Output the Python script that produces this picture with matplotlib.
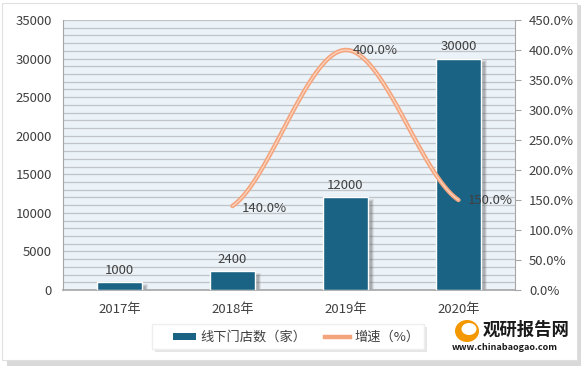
import numpy as np
import matplotlib
matplotlib.use("Agg")
import matplotlib.pyplot as plt
from matplotlib.patches import Rectangle, Ellipse

plt.rcParams['font.family'] = ['Noto Sans CJK SC', 'DejaVu Sans']

categories = ['2017年', '2018年', '2019年', '2020年']
stores = [1000, 2400, 12000, 30000]
growth = [None, 140.0, 400.0, 150.0]
left_ticks = [0, 5000, 10000, 15000, 20000, 25000, 30000, 35000]
right_ticks = [0, 50, 100, 150, 200, 250, 300, 350, 400, 450]

bar_color = '#1B6385'
line_color = '#F4A57E'
text_color = '#404040'

fig = plt.figure(figsize=(5.83, 3.66), dpi=100)
# outer frame with shadow
fig.patches.append(Rectangle((0.012, 0.0), 0.985, 0.985, transform=fig.transFigure,
                             facecolor='#D9D9D9', edgecolor='none', zorder=-3))
fig.patches.append(Rectangle((0.004, 0.016), 0.985, 0.975, transform=fig.transFigure,
                             facecolor='white', edgecolor='#E0E0E0', lw=0.8, zorder=-2))

ax = fig.add_axes([63/583, 1-290/366, (515-63)/583, (290-20)/366])
ax.set_facecolor('#EBF2F8')
x = np.arange(len(categories))
ax.set_xlim(-0.5, len(categories)-0.5)
ax.set_ylim(0, 35000)
for v in range(1000, 35001, 1000):
    ax.axhline(v, color='#C0C4C8', lw=0.9, zorder=1)

bw = 0.39
# soft shadows
for k, a in enumerate([0.12, 0.18, 0.25]):
    off = 0.06 - k*0.012
    for xi, v in zip(x, stores):
        ax.add_patch(Rectangle((xi - bw/2 + off, 0), bw, v - 200 - k*120, facecolor='#606060',
                               alpha=a, edgecolor='none', zorder=2))
ax.bar(x, stores, width=bw, color=bar_color, edgecolor='white', linewidth=1.0, zorder=3)
for xi, v in zip(x, stores):
    ax.text(xi, v + 700, str(v), ha='center', va='bottom', fontsize=9.5, color=text_color, zorder=6)

ax.set_xticks(x)
ax.set_xticklabels(categories, fontsize=9.5, color=text_color)
ax.set_yticks(left_ticks)
ax.set_yticklabels([str(t) for t in left_ticks], fontsize=9.5, color=text_color)
ax.tick_params(axis='both', length=0, pad=8)
ax.tick_params(axis='x', pad=9)
for s in ['top', 'right']:
    ax.spines[s].set_visible(False)
ax.spines['left'].set_color('#A6A6A6')
ax.spines['bottom'].set_color('#A6A6A6')
ax.spines['bottom'].set_linewidth(1.2)

ax2 = ax.twinx()
ax2.set_ylim(0, 450)
ax2.set_yticks(right_ticks)
ax2.set_yticklabels([f'{t:.1f}%' for t in right_ticks], fontsize=9.5, color=text_color)
ax2.tick_params(axis='y', length=4, color='#A6A6A6', pad=6)
for s in ['top', 'left', 'bottom']:
    ax2.spines[s].set_visible(False)
ax2.spines['right'].set_color('#A6A6A6')

# smooth curve (Catmull-Rom through the data points)
gx = np.array([i for i, g in enumerate(growth) if g is not None], dtype=float)
gy = np.array([g for g in growth if g is not None], dtype=float)
px = np.concatenate([[2*gx[0]-gx[1]], gx, [2*gx[-1]-gx[-2]]])
py = np.concatenate([[gy[0]], gy, [gy[-1]]])
cx, cy = [], []
for i in range(1, len(px)-2):
    t = np.linspace(0, 1, 60)
    p0, p1, p2, p3 = [np.array([px[j], py[j]]) for j in range(i-1, i+3)]
    pts = 0.5*((2*p1)[:, None] + (-p0+p2)[:, None]*t + (2*p0-5*p1+4*p2-p3)[:, None]*t**2
               + (-p0+3*p1-3*p2+p3)[:, None]*t**3)
    cx.extend(pts[0]); cy.extend(pts[1])
ax2.plot(cx, cy, color=line_color, lw=3.2, zorder=5, solid_capstyle='round')
ax2.plot(cx, cy, color='#FCD9C6', lw=0.8, zorder=5)

offs = {1: (0.28, -4), 2: (0.26, 0), 3: (0.28, 0)}
for xi, g in zip(gx, gy):
    dx, dy = offs[int(xi)]
    ax2.text(xi + dx, g + dy, f'{g:.1f}%', ha='center', va='center', fontsize=9.5,
             color=text_color, zorder=6)

# legend box
fig.patches.append(Rectangle((155/583, 1-352/366), 272/583, 25/366, transform=fig.transFigure,
                             facecolor='#E6E6E6', edgecolor='none', zorder=1))
fig.patches.append(Rectangle((152/583, 1-349/366), 272/583, 25/366, transform=fig.transFigure,
                             facecolor='white', edgecolor='#EEEEEE', zorder=2))
fig.patches.append(Rectangle((173/583, 1-340/366), 23/583, 7/366, transform=fig.transFigure,
                             facecolor=bar_color, edgecolor='none', zorder=3))
fig.text(200/583, 1-337/366, '线下门店数（家）', fontsize=9.5, color=text_color, va='center', zorder=4)
fig.add_artist(plt.Line2D([325/583, 350/583], [1-337/366, 1-337/366], transform=fig.transFigure,
                          color=line_color, lw=3.2, zorder=4))
fig.text(354/583, 1-337/366, '增速（%）', fontsize=9.5, color=text_color, va='center', zorder=4)

# watermark
fig.patches.append(Ellipse((467/583, 1-331/366), 24/583, 22/366, transform=fig.transFigure,
                           facecolor='#F39800', edgecolor='none', zorder=3))
fig.patches.append(Ellipse((469/583, 1-329/366), 15/583, 12/366, transform=fig.transFigure,
                           facecolor='white', edgecolor='none', zorder=3))
fig.text(483/583, 1-330/366, '观研报告网', fontsize=12.5, fontweight='bold', color='#1A1A1A',
         ha='left', va='center', zorder=4)
fig.text(452/583, 1-347/366, 'www.chinabaogao.com', fontsize=6.5, fontweight='bold', color='#1A1A1A',
         ha='left', va='center', zorder=4)

fig.savefig('out.png', dpi=100)
